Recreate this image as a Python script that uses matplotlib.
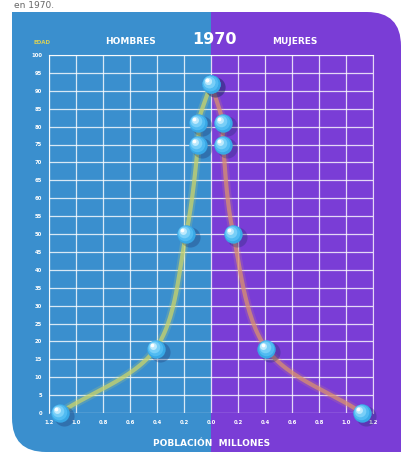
import numpy as np
import matplotlib.pyplot as plt
from matplotlib.path import Path
from matplotlib.patches import Rectangle, PathPatch
from matplotlib.transforms import offset_copy, IdentityTransform

# Piramide de poblacion 1970 (millones de personas por edad)
edades = [0, 18, 50, 75, 81, 92]
hombres = [-1.12, -0.41, -0.185, -0.096, -0.096, 0.0]
mujeres = [1.12, 0.41, 0.165, 0.09, 0.09, 0.0]

x_ticks = [-1.2, -1.0, -0.8, -0.6, -0.4, -0.2, 0.0, 0.2, 0.4, 0.6, 0.8, 1.0, 1.2]
x_labels = ['1.2', '1.0', '0.8', '0.6', '0.4', '0.2', '0.0',
            '0.2', '0.4', '0.6', '0.8', '1.0', '1.2']
y_ticks = list(range(0, 101, 5))

W, H = 404, 457
azul = '#3a8fce'
morado = '#7a3dd6'

fig = plt.figure(figsize=(W / 100, H / 100), dpi=100)
fig.patch.set_facecolor('white')

# fondo en pixeles
bg = fig.add_axes([0, 0, 1, 1])
bg.set_xlim(0, W)
bg.set_ylim(H, 0)
bg.axis('off')

x0, x1, y0, y1, r = 12, 401, 12, 452, 34
verts = [(x0, y0), (x1 - r, y0), (x1, y0), (x1, y0 + r), (x1, y1),
         (x0 + r, y1), (x0, y1), (x0, y1 - r), (x0, y0)]
codes = [Path.MOVETO, Path.LINETO, Path.CURVE3, Path.CURVE3, Path.LINETO,
         Path.LINETO, Path.CURVE3, Path.CURVE3, Path.CLOSEPOLY]
forma = PathPatch(Path(verts, codes), facecolor='none', edgecolor='none')
bg.add_patch(forma)
mitad = 211
for xa, xb, c in [(0, mitad, azul), (mitad, W, morado)]:
    rect = Rectangle((xa, 0), xb - xa, H, facecolor=c, edgecolor='none')
    bg.add_patch(rect)
    rect.set_clip_path(forma)

bg.text(14, 5, 'en 1970.', color='#666666', fontsize=6.5, va='center')
bg.text(42, 42, 'EDAD', color='#d6cf5a', fontsize=4, fontweight='bold',
        ha='center', va='center')
bg.text(131, 41, 'HOMBRES', color='white', fontsize=6.5, fontweight='bold',
        ha='center', va='center')
bg.text(214, 40, '1970', color='white', fontsize=11.5, fontweight='bold',
        ha='center', va='center')
bg.text(295, 41, 'MUJERES', color='white', fontsize=6.5, fontweight='bold',
        ha='center', va='center')
bg.text(212, 443, 'POBLACIÓN  MILLONES', color='white', fontsize=6.5,
        fontweight='bold', ha='center', va='center')

# grafico principal
ax = fig.add_axes([49 / W, (H - 413) / H, 324 / W, 358 / H])
ax.set_facecolor('none')
ax.set_xlim(-1.2, 1.2)
ax.set_ylim(0, 100)
ax.set_xticks(x_ticks)
ax.set_xticklabels(x_labels)
ax.set_yticks(y_ticks)
ax.grid(True, color='white', lw=0.9, alpha=0.8)
ax.set_axisbelow(True)
for s in ax.spines.values():
    s.set_color('white')
    s.set_alpha(0.8)
ax.spines['bottom'].set_visible(False)
ax.tick_params(length=0, colors='white', labelsize=3.8, pad=5)
for lab in ax.get_xticklabels() + ax.get_yticklabels():
    lab.set_fontweight('bold')


def curva(xs, ys, n=30):
    # Catmull-Rom en coordenadas de pantalla
    p = ax.transData.transform(np.column_stack([xs, ys]))
    p = np.vstack([2 * p[0] - p[1], p, 2 * p[-1] - p[-2]])
    out = []
    for i in range(1, len(p) - 2):
        a, b, c, d = p[i - 1], p[i], p[i + 1], p[i + 2]
        for t in np.linspace(0, 1, n, endpoint=False):
            t2, t3 = t * t, t * t * t
            out.append(0.5 * ((2 * b) + (-a + c) * t
                              + (2 * a - 5 * b + 4 * c - d) * t2
                              + (-a + 3 * b - 3 * c + d) * t3))
    out.append(p[-2])
    return np.array(out)


for xs, col in [(hombres, '#c9d36a'), (mujeres, '#d9906e')]:
    pts = curva(xs, edades)
    ax.plot(pts[:, 0], pts[:, 1], color=col, lw=6, alpha=0.2,
            transform=IdentityTransform(), clip_on=False, solid_capstyle='round')
    ax.plot(pts[:, 0], pts[:, 1], color=col, lw=3, alpha=0.75,
            transform=IdentityTransform(), clip_on=False, solid_capstyle='round')

# esferas
bx = hombres + mujeres
by = edades + edades
sombra = offset_copy(ax.transData, fig=fig, x=4, y=-3, units='dots')
ax.scatter(bx, by, s=210, color='#1c2c66', alpha=0.3, lw=0,
           transform=sombra, clip_on=False, zorder=5)
capas = [(175, '#38a8e6', 0, 0), (125, '#50bbf2', -0.8, 0.8),
         (70, '#78cff8', -1.8, 1.8), (25, '#bdeafd', -3, 3), (7, 'white', -3.8, 3.8)]
for s, c, dx, dy in capas:
    tr = offset_copy(ax.transData, fig=fig, x=dx, y=dy, units='dots')
    ax.scatter(bx, by, s=s, color=c, lw=0, transform=tr, clip_on=False, zorder=6)

fig.savefig('out.png', dpi=100)
